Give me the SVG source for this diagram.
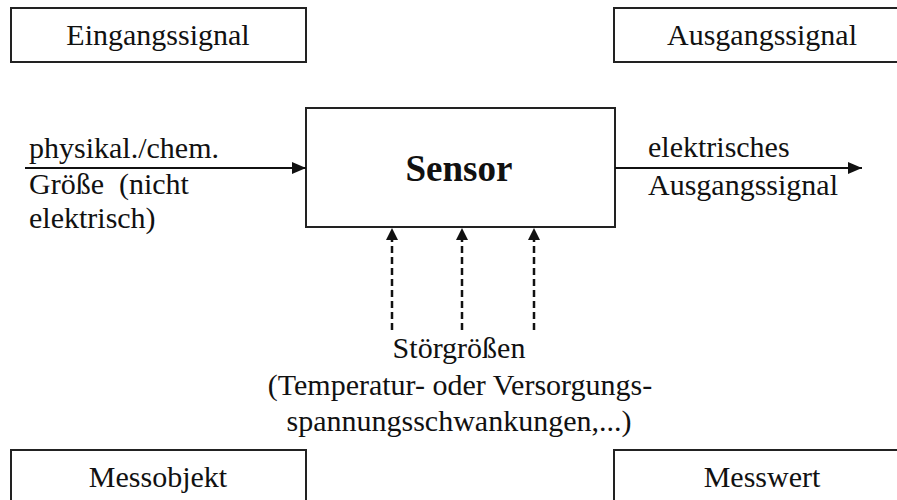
<svg xmlns="http://www.w3.org/2000/svg" width="897" height="500" viewBox="0 0 897 500">
  <style>
    text { font-family: 'Liberation Serif', 'Times New Roman', Times, serif; font-size: 30px; fill: #111; font-weight: normal; }
    .c { text-anchor: middle; }
    .box { fill: #fff; stroke: #222; stroke-width: 2; }
    .arrow { stroke: #111; stroke-width: 2; fill: none; }
    .dash { stroke: #111; stroke-width: 2.5; fill: none; stroke-dasharray: 7 4; }
    .bold { font-weight: bold; font-size: 37px; }
  </style>
  <defs>
    <marker id="solid" markerUnits="userSpaceOnUse" markerWidth="14" markerHeight="12" refX="14" refY="6" orient="auto">
      <path d="M0,0 L14,6 L0,12 z" fill="#111"/>
    </marker>
    <marker id="dashHead" markerUnits="userSpaceOnUse" markerWidth="13" markerHeight="12" refX="0" refY="6" orient="auto">
      <path d="M0,0 L12,6 L0,12 z" fill="#111"/>
    </marker>
  </defs>
  <rect width="897" height="500" fill="#fff"/>

  <g id="eingangssignal">
    <rect class="box" x="11" y="8" width="295" height="54"/>
    <text class="c" x="158" y="45" font-family="Liberation Serif, serif">Eingangssignal</text>
  </g>
  <g id="ausgangssignal">
    <rect class="box" x="614" y="8" width="296" height="54"/>
    <text class="c" x="762" y="45" font-family="Liberation Serif, serif">Ausgangssignal</text>
  </g>
  <g id="messobjekt">
    <rect class="box" x="11" y="450" width="295" height="60"/>
    <text class="c" x="158" y="487" font-family="Liberation Serif, serif">Messobjekt</text>
  </g>
  <g id="messwert">
    <rect class="box" x="614" y="450" width="296" height="60"/>
    <text class="c" x="762" y="487" font-family="Liberation Serif, serif">Messwert</text>
  </g>
  <g id="sensor">
    <rect class="box" x="306" y="108" width="309" height="119"/>
    <text class="c bold" x="459" y="181" font-family="Liberation Serif, serif">Sensor</text>
  </g>

  <g id="connectors">
    <line class="arrow" x1="25" y1="168" x2="306" y2="168" marker-end="url(#solid)"/>
    <line class="arrow" x1="615" y1="168" x2="862" y2="168" marker-end="url(#solid)"/>
    <line class="dash" x1="392" y1="330" x2="392" y2="240" marker-end="url(#dashHead)"/>
    <line class="dash" x1="462" y1="330" x2="462" y2="240" marker-end="url(#dashHead)"/>
    <line class="dash" x1="534" y1="330" x2="534" y2="240" marker-end="url(#dashHead)"/>
  </g>

  <g id="labels" font-family="Liberation Serif, serif">
    <text x="29" y="158" font-family="Liberation Serif, serif">physikal./chem.</text>
    <text x="29" y="194" xml:space="preserve" font-family="Liberation Serif, serif">Größe  (nicht</text>
    <text x="29" y="228" font-family="Liberation Serif, serif">elektrisch)</text>
    <text x="648" y="157" font-family="Liberation Serif, serif">elektrisches</text>
    <text x="648" y="195" font-family="Liberation Serif, serif">Ausgangssignal</text>
    <text class="c" x="459" y="358" font-family="Liberation Serif, serif">Störgrößen</text>
    <text class="c" x="460" y="395" font-family="Liberation Serif, serif">(Temperatur- oder Versorgungs-</text>
    <text class="c" x="459" y="431" font-family="Liberation Serif, serif">spannungsschwankungen,...)</text>
  </g>
</svg>
